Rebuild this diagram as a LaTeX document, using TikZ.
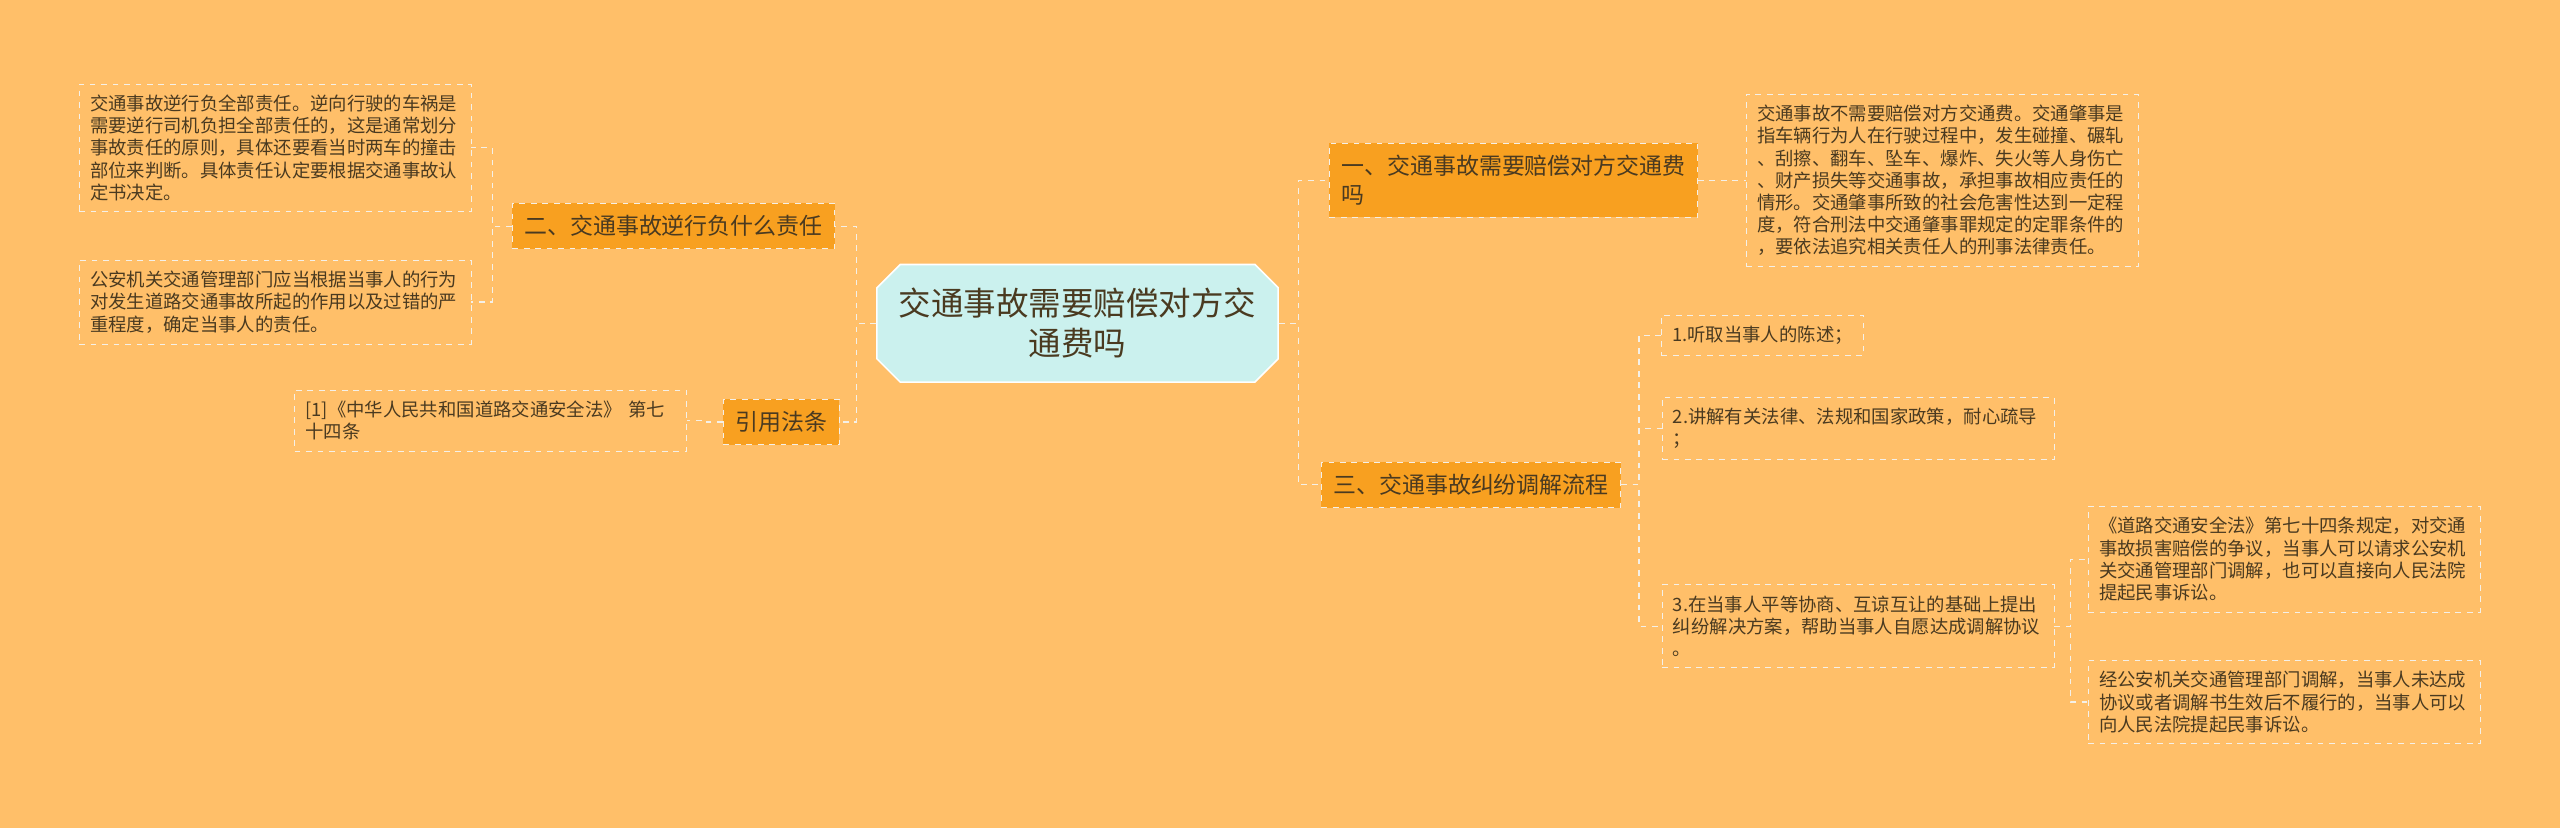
\documentclass[tikz,border=0pt]{standalone}
\usepackage{fontspec}
\setmainfont{Noto Sans CJK SC}
\usetikzlibrary{shapes.misc}
\definecolor{bgorange}{HTML}{FFBF69}
\definecolor{topicfill}{HTML}{F8A020}
\definecolor{rootfill}{HTML}{CBF1EE}
\definecolor{textgrey}{HTML}{4A3A20}
\definecolor{linkgrey}{HTML}{F4F0E8}
\tikzset{
  rootnode/.style={chamfered rectangle, chamfered rectangle xsep=3mm, fill=rootfill, draw=white, line width=0.8pt,
    align=center, text=textgrey, font=\fontsize{17}{21}\selectfont, minimum height=72*0.3mm, inner xsep=1mm},
  topic/.style={rectangle, fill=topicfill, draw=linkgrey, dashed, align=left, text=textgrey,
    font=\fontsize{12}{15}\selectfont, inner sep=2.2mm},
  leafbase/.style={rectangle, draw=linkgrey, dashed, align=left, text=textgrey,
    font=\fontsize{9.6}{11.6}\selectfont, inner sep=2mm},
  leaf/.style={leafbase, text width=68mm},
  link/.style={draw=linkgrey, dashed, line width=0.6pt}
}
\begin{document}
\begin{tikzpicture}[x=0.3mm,y=-0.3mm]
  \fill[bgorange] (0,0) rectangle (1568,507);
  \useasboundingbox (0,0) rectangle (1568,507);
  % root
  \node[rootnode] (root) at (660,198) {交通事故需要赔偿对方交\\通费吗};
  % left side
  \node[topic] (nixing) at (412.5,138.5) {二、交通事故逆行负什么责任};
  \node[topic] (fatiao) at (478.5,258.5) {引用法条};
  \node[leaf] (nixingA) at (168.5,90.5) {交通事故逆行负全部责任。逆向行驶的车祸是\\需要逆行司机负担全部责任的，这是通常划分\\事故责任的原则，具体还要看当时两车的撞击\\部位来判断。具体责任认定要根据交通事故认\\定书决定。};
  \node[leaf] (nixingB) at (168.5,185) {公安机关交通管理部门应当根据当事人的行为\\对发生道路交通事故所起的作用以及过错的严\\重程度，确定当事人的责任。};
  \node[leaf] (fatiaoA) at (300.5,257.5) {[1]《中华人民共和国道路交通安全法》 第七\\十四条};
  % right side
  \node[topic] (peichang) at (927,110.5) {一、交通事故需要赔偿对方交通费\\吗};
  \node[leaf] (peichangA) at (1189.5,110.5) {交通事故不需要赔偿对方交通费。交通肇事是\\指车辆行为人在行驶过程中，发生碰撞、碾轧\\、刮擦、翻车、坠车、爆炸、失火等人身伤亡\\、财产损失等交通事故，承担事故相应责任的\\情形。交通肇事所致的社会危害性达到一定程\\度，符合刑法中交通肇事罪规定的定罪条件的\\，要依法追究相关责任人的刑事法律责任。};
  \node[topic] (tiaojie) at (901,297) {三、交通事故纠纷调解流程};
  \node[leafbase] (stepA) at (1079.5,205.5) {1.听取当事人的陈述；};
  \node[leaf] (stepB) at (1138,262.5) {2.讲解有关法律、法规和国家政策，耐心疏导\\；};
  \node[leaf] (stepC) at (1138,383.5) {3.在当事人平等协商、互谅互让的基础上提出\\纠纷解决方案，帮助当事人自愿达成调解协议\\。};
  \node[leaf] (susongA) at (1399,342.5) {《道路交通安全法》第七十四条规定，对交通\\事故损害赔偿的争议，当事人可以请求公安机\\关交通管理部门调解，也可以直接向人民法院\\提起民事诉讼。};
  \node[leaf] (susongB) at (1399,430) {经公安机关交通管理部门调解，当事人未达成\\协议或者调解书生效后不履行的，当事人可以\\向人民法院提起民事诉讼。};
  % connectors
  \path[link] (root.west) -- ++(-12,0) |- (nixing.east);
  \path[link] (root.west) -- ++(-12,0) |- (fatiao.east);
  \path[link] (nixing.west) -- ++(-12,0) |- (nixingA.east);
  \path[link] (nixing.west) -- ++(-12,0) |- (nixingB.east);
  \path[link] (fatiao.west) -- ++(-10,0) |- (fatiaoA.east);
  \path[link] (root.east) -- ++(12,0) |- (peichang.west);
  \path[link] (root.east) -- ++(12,0) |- (tiaojie.west);
  \path[link] (peichang.east) -- ++(10,0) |- (peichangA.west);
  \path[link] (tiaojie.east) -- ++(11,0) |- (stepA.west);
  \path[link] (tiaojie.east) -- ++(11,0) |- (stepB.west);
  \path[link] (tiaojie.east) -- ++(11,0) |- (stepC.west);
  \path[link] (stepC.east) -- ++(10,0) |- (susongA.west);
  \path[link] (stepC.east) -- ++(10,0) |- (susongB.west);
\end{tikzpicture}
\end{document}
